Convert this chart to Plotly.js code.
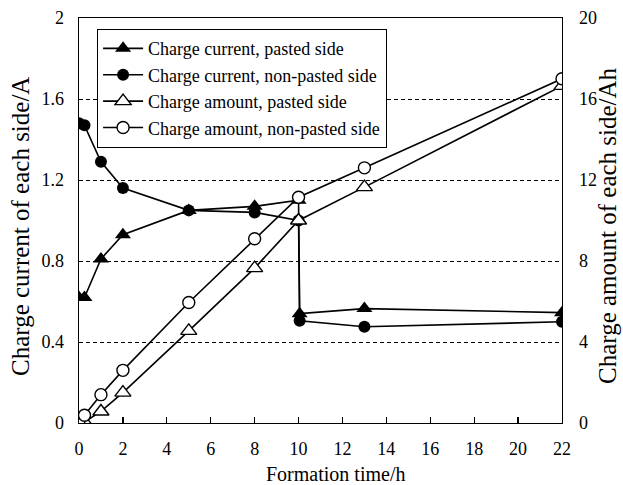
<!DOCTYPE html>
<html>
<head>
<meta charset="utf-8">
<script src="https://cdn.plot.ly/plotly-3.0.1.min.js"></script>
<style>html,body{margin:0;padding:0;background:#fff;}#chart{width:623px;height:485px;}</style>
</head>
<body>
<div id="chart"></div>
<script>
var timeH = [0, 0.25, 1, 2, 5, 8, 10, 10.05, 13, 22];
var currentPasted = [0.62, 0.62, 0.81, 0.93, 1.05, 1.07, 1.10, 0.54, 0.565, 0.545];
var currentNonPasted = [1.48, 1.47, 1.29, 1.16, 1.05, 1.04, 1.00, 0.505, 0.475, 0.50];
var timeAmount = [0, 0.25, 1, 2, 5, 8, 10, 13, 22];
var amountPasted = [0, 0.05, 0.57, 1.5, 4.55, 7.65, 10.0, 11.65, 16.65];
var amountNonPasted = [0.12, 0.38, 1.4, 2.6, 5.95, 9.1, 11.15, 12.6, 17.0];

var xTitle = 'Formation time/h';
var yTitle = 'Charge current of each side/A';
var y2Title = 'Charge amount of each side/Ah';

var F = 'Liberation Serif, Times New Roman, serif';
var lineStyle = {color: '#000', width: 1.6};

var traces = [
  {x: timeH, y: currentPasted, name: 'Charge current, pasted side', mode: 'lines+markers',
   line: lineStyle, marker: {symbol: 'triangle-up', size: 14, color: '#000'}, yaxis: 'y'},
  {x: timeH, y: currentNonPasted, name: 'Charge current, non-pasted side', mode: 'lines+markers',
   line: lineStyle, marker: {symbol: 'circle', size: 12, color: '#000'}, yaxis: 'y'},
  {x: timeAmount, y: amountPasted, name: 'Charge amount, pasted side', mode: 'lines+markers',
   line: lineStyle, marker: {symbol: 'triangle-up', size: 14, color: '#fff', line: {color: '#000', width: 1.4}}, yaxis: 'y2'},
  {x: timeAmount, y: amountNonPasted, name: 'Charge amount, non-pasted side', mode: 'lines+markers',
   line: lineStyle, marker: {symbol: 'circle', size: 12, color: '#fff', line: {color: '#000', width: 1.4}}, yaxis: 'y2'}
];

var layout = {
  width: 623, height: 485,
  margin: {l: 79, r: 61, t: 18, b: 62},
  paper_bgcolor: '#fff', plot_bgcolor: '#fff',
  font: {family: F, size: 18, color: '#000'},
  showlegend: true,
  legend: {x: 0.037, y: 0.973, xanchor: 'left', yanchor: 'top', bgcolor: '#fff',
           bordercolor: '#000', borderwidth: 1.2, font: {family: F, size: 18, color: '#000'},
           tracegroupgap: 0, itemwidth: 40},
  xaxis: {range: [0, 22], dtick: 2, tick0: 0, showgrid: false, zeroline: false,
          showline: true, linecolor: '#000', linewidth: 1.3, mirror: true,
          ticks: 'inside', ticklen: 6, tickcolor: '#000', tickwidth: 1.3,
          ticklabelstandoff: 9, tickfont: {family: F, size: 18}},
  yaxis: {range: [0, 2], dtick: 0.4, tick0: 0, showgrid: true, gridcolor: '#000', gridwidth: 1,
          griddash: '4px,3px', zeroline: false, showline: true, linecolor: '#000', linewidth: 1.3,
          ticks: '', ticklabelstandoff: 10, tickfont: {family: F, size: 18}},
  yaxis2: {range: [0, 20], dtick: 4, tick0: 0, overlaying: 'y', side: 'right', showgrid: false,
           zeroline: false, showline: true, linecolor: '#000', linewidth: 1.3, ticks: '',
           ticklabelstandoff: 12, tickfont: {family: F, size: 18}},
  annotations: [
    {text: xTitle, xref: 'paper', yref: 'paper', x: (335 - 79) / 483, y: -(474 - 423) / 405,
     xanchor: 'center', yanchor: 'middle', showarrow: false, borderpad: 0,
     font: {family: F, size: 20, color: '#000'}},
    {text: yTitle, xref: 'paper', yref: 'paper', x: (20 - 79) / 483, y: (423 - 227) / 405, textangle: -90,
     xanchor: 'center', yanchor: 'middle', showarrow: false, borderpad: 0,
     font: {family: F, size: 25, color: '#000'}},
    {text: y2Title, xref: 'paper', yref: 'paper', x: (608 - 79) / 483, y: (423 - 226) / 405, textangle: -90,
     xanchor: 'center', yanchor: 'middle', showarrow: false, borderpad: 0,
     font: {family: F, size: 25, color: '#000'}}
  ]
};

Plotly.newPlot('chart', traces, layout, {displayModeBar: false, staticPlot: true});
</script>
</body>
</html>
